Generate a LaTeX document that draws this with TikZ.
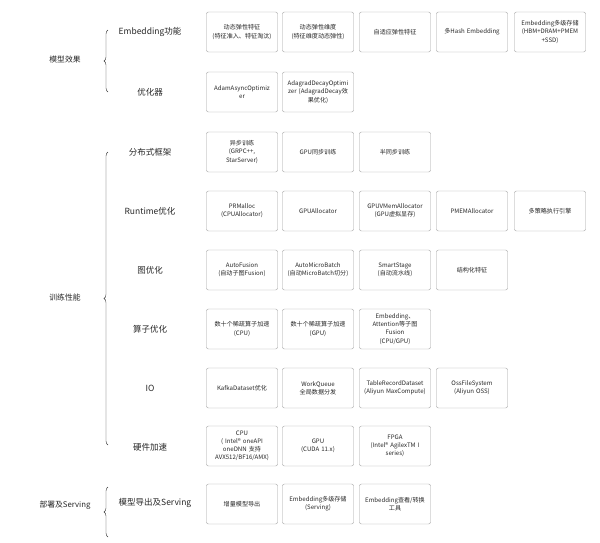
\documentclass[tikz,border=0pt]{standalone}
\usepackage{fontspec}
\setmainfont{Noto Sans CJK SC}
\usetikzlibrary{decorations.pathreplacing}
\tikzset{
  featbox/.style={draw=gray!75, rounded corners=2pt, minimum width=71pt, minimum height=40pt,
    text width=69pt, align=center, inner sep=1pt, text=black!85,
    font=\fontsize{6.1}{8.2}\selectfont},
  catlabel/.style={text=black!85, font=\fontsize{8.5}{10}\selectfont},
  grplabel/.style={text=black!85, font=\fontsize{7.8}{9}\selectfont},
  grpbrace/.style={draw=black!80, decorate, decoration={brace, amplitude=4pt}}
}
\begin{document}
\begin{tikzpicture}[x=1pt,y=-1pt]
\useasboundingbox (0,0) rectangle (600,542);

% 左侧大类与花括号
\node[grplabel] (model) at (65,60) {模型效果};
\node[grplabel] (train) at (65,298) {训练性能};
\node[grplabel] (serve) at (65,505) {部署及Serving};
\draw[grpbrace] (108,92) -- (108,30);
\draw[grpbrace] (108,445) -- (108,152);
\draw[grpbrace] (108,537) -- (108,487);

% 小类标签
\node[catlabel] (embcat) at (150,32) {Embedding功能};
\node[catlabel] (optcat) at (150,92) {优化器};
\node[catlabel] (distcat) at (150,152) {分布式框架};
\node[catlabel] (rtcat) at (150,211) {Runtime优化};
\node[catlabel] (graphcat) at (150,270) {图优化};
\node[catlabel] (opcat) at (150,329) {算子优化};
\node[catlabel] (iocat) at (150,388) {IO};
\node[catlabel] (hwcat) at (150,447) {硬件加速};
\node[catlabel] (expcat) at (155,503) {模型导出及Serving};

% Embedding功能
\node[featbox] (emb1) at (242,32) {动态弹性特征\\(特征准入、特征淘汰)};
\node[featbox] (emb2) at (318,32) {动态弹性维度\\(特征维度动态弹性)};
\node[featbox] (emb3) at (395,32) {自适应弹性特征};
\node[featbox] (emb4) at (472,32) {多Hash Embedding};
\node[featbox] (emb5) at (550,32) {Embedding多级存储\\(HBM+DRAM+PMEM\\+SSD)};

% 优化器
\node[featbox] (opt1) at (242,92) {AdamAsyncOptimiz\\er};
\node[featbox] (opt2) at (318,92) {AdagradDecayOptimi\\zer (AdagradDecay效\\果优化)};

% 分布式框架
\node[featbox] (dist1) at (242,152) {异步训练\\(GRPC++,\\StarServer)};
\node[featbox] (dist2) at (318,152) {GPU同步训练};
\node[featbox] (dist3) at (395,152) {半同步训练};

% Runtime优化
\node[featbox] (rt1) at (242,211) {PRMalloc\\(CPUAllocator)};
\node[featbox] (rt2) at (318,211) {GPUAllocator};
\node[featbox] (rt3) at (395,211) {GPUVMemAllocator\\(GPU虚拟显存)};
\node[featbox] (rt4) at (472,211) {PMEMAllocator};
\node[featbox] (rt5) at (550,211) {多策略执行引擎};

% 图优化
\node[featbox] (graph1) at (242,270) {AutoFusion\\(自动子图Fusion)};
\node[featbox] (graph2) at (318,270) {AutoMicroBatch\\(自动MicroBatch切分)};
\node[featbox] (graph3) at (395,270) {SmartStage\\(自动流水线)};
\node[featbox] (graph4) at (472,270) {结构化特征};

% 算子优化
\node[featbox] (op1) at (242,329) {数十个稀疏算子加速\\(CPU)};
\node[featbox] (op2) at (318,329) {数十个稀疏算子加速\\(GPU)};
\node[featbox] (op3) at (395,329) {Embedding、\\Attention等子图\\Fusion\\(CPU/GPU)};

% IO
\node[featbox] (io1) at (242,388) {KafkaDataset优化};
\node[featbox] (io2) at (318,388) {WorkQueue\\全局数据分发};
\node[featbox] (io3) at (395,388) {TableRecordDataset\\(Aliyun MaxCompute)};
\node[featbox] (io4) at (472,388) {OssFileSystem\\(Aliyun OSS)};

% 硬件加速
\node[featbox] (hw1) at (242,446) {CPU\\( Intel® oneAPI\\oneDNN 支持\\AVX512/BF16/AMX)};
\node[featbox] (hw2) at (318,446) {GPU\\(CUDA 11.x)};
\node[featbox] (hw3) at (395,446) {FPGA\\(Intel® AgilexTM I\\series)};

% 模型导出及Serving
\node[featbox] (exp1) at (242,504) {增量模型导出};
\node[featbox] (exp2) at (318,504) {Embedding多级存储\\(Serving)};
\node[featbox] (exp3) at (395,504) {Embedding查看/转换\\工具};
\end{tikzpicture}
\end{document}
